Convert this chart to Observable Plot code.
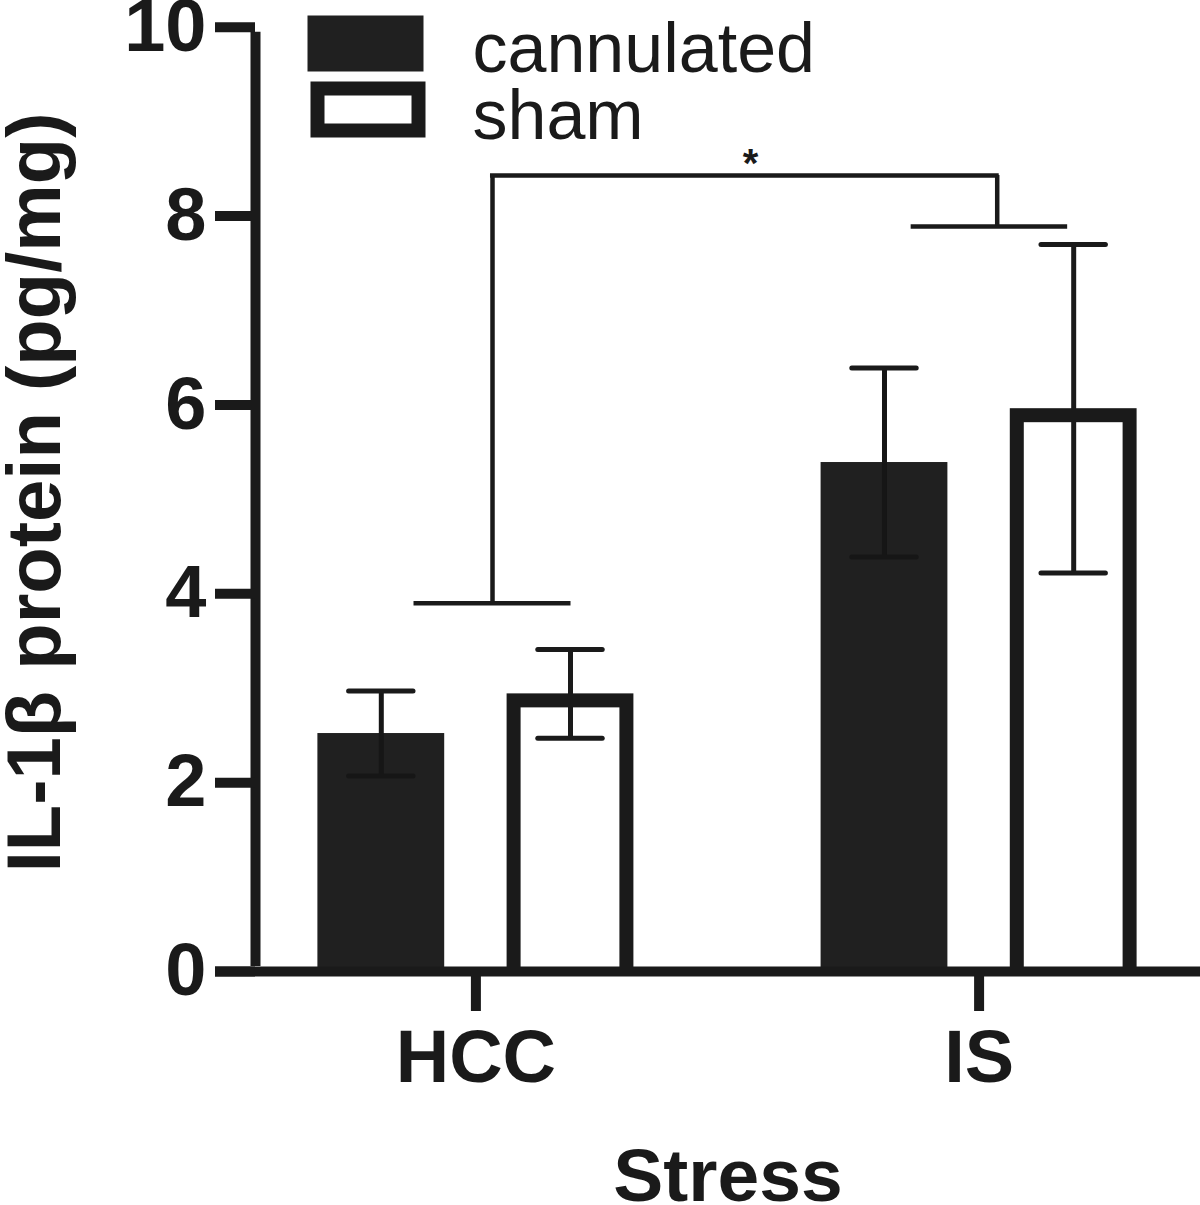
<!DOCTYPE html>
<html>
<head>
<meta charset="utf-8">
<script src="https://cdn.jsdelivr.net/npm/d3@7"></script>
<script src="https://cdn.jsdelivr.net/npm/@observablehq/plot@0.6"></script>
<style>
  html, body { margin: 0; padding: 0; background: #fff; }
  #chart svg { display: block; }
</style>
</head>
<body>
<div id="chart"></div>
<script>
// ---- data ----
const stress = ["HCC", "IS"];
const groups = ["cannulated", "sham"];
const cannulatedMean = [2.52, 5.39];
const cannulatedSem = [0.45, 1.0];
const shamMean = [2.94, 5.96];
const shamSem = [0.47, 1.74];
const yTicks = [0, 2, 4, 6, 8, 10];
const yLabel = "IL-1β protein (pg/mg)";
const xLabel = "Stress";
const sigLabel = "*";
// significance bracket (x in stress-group units, y in pg/mg)
const bracketLowY = [3.9, 7.89];
const bracketLowX1 = [-0.123, 0.865];
const bracketLowX2 = [0.189, 1.176];
const bracketStemX = [0.033, 1.036];
const bracketTopY = 8.43;
const sigX = 0.546;

// ---- layout constants ----
const OFF = 0.188, HALF = 0.126, CAP = 0.064;
const INK = "#1a1a1a", BAR = "#202020";

const rows = [];
stress.forEach((s, i) => {
  rows.push({stress: s, group: groups[0], gi: i, side: -1, mean: cannulatedMean[i], sem: cannulatedSem[i]});
  rows.push({stress: s, group: groups[1], gi: i, side: 1, mean: shamMean[i], sem: shamSem[i]});
});
const cx = d => d.gi + d.side * OFF;
const cann = rows.filter(d => d.group === "cannulated");
const sham = rows.filter(d => d.group === "sham");
const brackets = bracketLowY.map((y, i) => ({y, x1: bracketLowX1[i], x2: bracketLowX2[i], stem: bracketStemX[i]}));

const font = "'Liberation Sans', Arial, Helvetica, sans-serif";

const chart = Plot.plot({
  width: 1200,
  height: 1205,
  marginLeft: 255,
  marginRight: 0,
  marginTop: 26.7,
  marginBottom: 234,
  style: {fontFamily: font, color: INK, background: "#fff", overflow: "visible"},
  x: {type: "linear", domain: [-0.438, 1.44], axis: null},
  y: {domain: [0, 10], axis: null},
  marks: [
    // bars
    Plot.rect(cann, {x1: d => cx(d) - HALF, x2: d => cx(d) + HALF, y1: d => 0, y2: "mean", fill: BAR}),
    Plot.rect(sham, {x1: d => cx(d) - HALF, x2: d => cx(d) + HALF, y1: d => 0, y2: "mean", fill: INK}),
    Plot.rect(sham, {x1: d => cx(d) - HALF, x2: d => cx(d) + HALF, y1: d => 0, y2: "mean", fill: "#fff", insetTop: 14, insetLeft: 14, insetRight: 14}),
    // error bars
    Plot.ruleX(cann, {x: cx, y1: d => d.mean - d.sem, y2: d => d.mean + d.sem, stroke: "#161616", strokeWidth: 5}),
    Plot.ruleY(cann, {y: d => d.mean - d.sem, x1: d => cx(d) - CAP, x2: d => cx(d) + CAP, stroke: "#161616", strokeWidth: 5, strokeLinecap: "round"}),
    Plot.ruleX(sham, {x: cx, y1: d => d.mean - d.sem, y2: d => d.mean + d.sem, stroke: INK, strokeWidth: 5}),
    Plot.ruleY(sham, {y: d => d.mean - d.sem, x1: d => cx(d) - CAP, x2: d => cx(d) + CAP, stroke: INK, strokeWidth: 5, strokeLinecap: "round"}),
    Plot.ruleY(rows, {y: d => d.mean + d.sem, x1: d => cx(d) - CAP, x2: d => cx(d) + CAP, stroke: INK, strokeWidth: 5, strokeLinecap: "round"}),
    // significance bracket
    Plot.ruleY(brackets, {y: "y", x1: "x1", x2: "x2", stroke: INK, strokeWidth: 4.5}),
    Plot.ruleX(brackets, {x: "stem", y1: "y", y2: d => bracketTopY, stroke: INK, strokeWidth: 4.5}),
    Plot.ruleY([bracketTopY], {x1: d => bracketStemX[0] - 0.004, x2: d => bracketStemX[1] + 0.004, stroke: INK, strokeWidth: 4.5}),
    Plot.text([sigLabel], {x: d => sigX, y: d => bracketTopY, text: d => d, lineAnchor: "bottom", dy: 2, fontSize: 40, fontWeight: "bold", fill: INK}),
    // axes
    Plot.ruleX([0], {x: d => -0.438, y1: d => 0, y2: d => 10, stroke: INK, strokeWidth: 10, insetTop: -5, insetBottom: -5}),
    Plot.ruleY([0], {stroke: INK, strokeWidth: 10, insetLeft: -40}),
    Plot.axisY({ticks: yTicks, tickSize: 40, tickPadding: 9, strokeWidth: 10, fontSize: 74, fontWeight: "bold", label: null}),
    Plot.axisX({ticks: [0, 1], tickFormat: i => stress[i], tickSize: 40, tickPadding: 18, strokeWidth: 10, fontSize: 74, fontWeight: "bold", label: null}),
    Plot.text([yLabel], {frameAnchor: "left", text: d => d, rotate: -90, textAnchor: "middle", lineAnchor: "middle", dx: -220, dy: -7, fontSize: 76, fontWeight: "bold", fill: INK}),
    Plot.text([xLabel], {frameAnchor: "bottom", text: d => d, dy: 229, lineAnchor: "bottom", fontSize: 75, fontWeight: "bold", fill: INK}),
    // legend
    Plot.frame({fill: BAR, stroke: null, insetLeft: 52, insetRight: 777, insetTop: -11.7, insetBottom: 900}),
    Plot.frame({fill: "#fff", stroke: INK, strokeWidth: 14, insetLeft: 62, insetRight: 782, insetTop: 61.3, insetBottom: 841}),
    Plot.text([groups[0]], {frameAnchor: "top-left", text: d => d, dx: 217, dy: 45, lineAnchor: "bottom", textAnchor: "start", fontSize: 70, fill: INK}),
    Plot.text([groups[1]], {frameAnchor: "top-left", text: d => d, dx: 217, dy: 111.3, lineAnchor: "bottom", textAnchor: "start", fontSize: 70, fill: INK})
  ]
});
document.getElementById("chart").appendChild(chart);
</script>
</body>
</html>
